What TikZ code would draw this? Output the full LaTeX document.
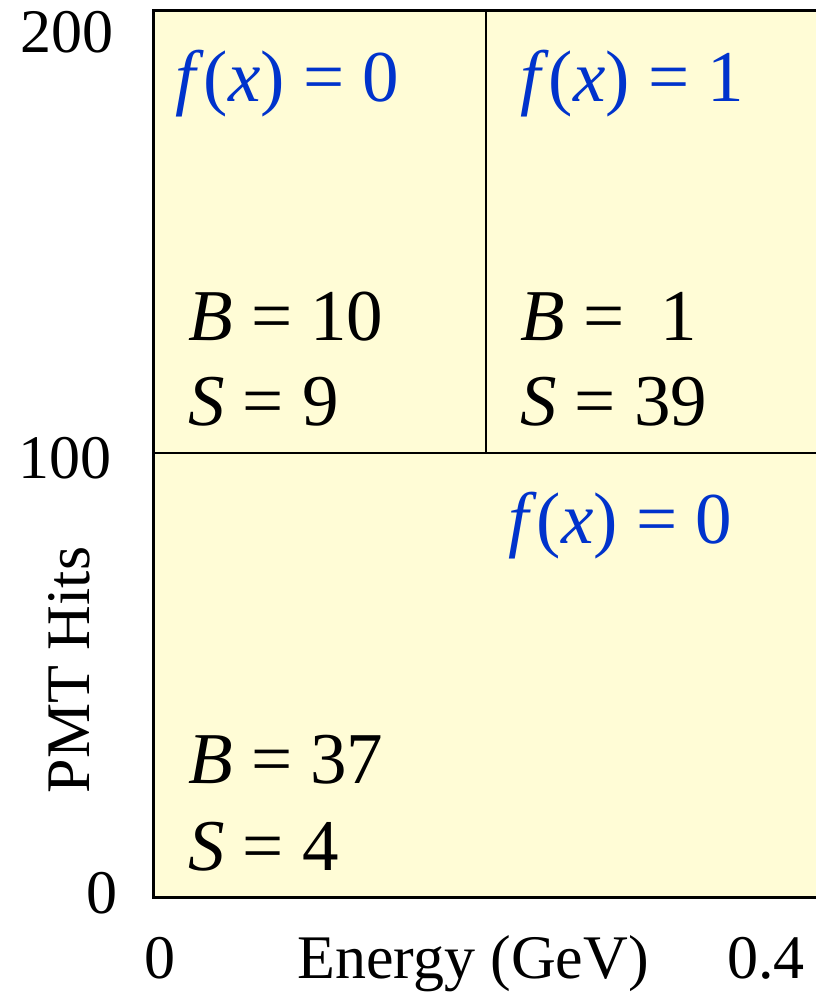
\documentclass[tikz,border=0pt]{standalone}
\usepackage{fontspec}
\setmainfont{Liberation Serif}
\usepackage{xcolor}
\usepackage{tikz}
\usetikzlibrary{positioning}

\definecolor{cellfill}{RGB}{255,252,214}
\definecolor{fblue}{RGB}{0,51,204}

\begin{document}
\begin{tikzpicture}[
  x=1pt, y=-1pt,
  axislab/.style={font=\fontsize{62}{66}\selectfont, inner sep=0pt},
  cell/.style={font=\fontsize{73}{78}\selectfont, inner sep=0pt, anchor=base west},
  fval/.style={cell, text=fblue},
  frame/.style={line width=3pt, draw=black},
  divider/.style={line width=2pt, draw=black}
]
\useasboundingbox (0,0) rectangle (816,993);

% Cut regions
\fill[cellfill] (153,10) rectangle (816,897);
\coordinate (cutL) at (153,453);
\coordinate (cutR) at (816,453);
\coordinate (cutT) at (486,10);
\draw[divider] (cutL) -- (cutR);
\draw[divider] (cutT) -- (cutT |- cutL);
\draw[frame] (816,10) -- (153,10) -- (153,897) -- (816,897);

% Region labels
\node[fval] (ftl) at (175,101) {\textit{f}(\textit{x}) = 0};
\node[fval] (ftr) at (520,101) {\textit{f}(\textit{x}) = 1};
\node[cell] (btl) at (188,340) {\textit{B} = 10};
\node[cell] (stl) at (188,425) {\textit{S} = 9};
\node[cell] (btr) at (520,340) {\textit{B} = \ 1};
\node[cell] (str) at (520,425) {\textit{S} = 39};
\node[fval] (fbot) at (508,543) {\textit{f}(\textit{x}) = 0};
\node[cell] (bbot) at (188,783) {\textit{B} = 37};
\node[cell] (sbot) at (188,870) {\textit{S} = 4};

% Axis ticks and titles
\node[axislab, anchor=base east] (y200) at (114,52) {200};
\node[axislab, anchor=base east] (y100) at (112,478) {100};
\node[axislab, anchor=base east] (y0) at (118,913) {0};
\node[axislab, anchor=base west] (x0) at (144,978) {0};
\node[axislab, anchor=base west] (xmax) at (727,978) {0.4};
\node[axislab, anchor=base west] (xtitle) at (297,978) {Energy (GeV)};
\node[axislab, rotate=90, anchor=base] (ytitle) at (89,670) {PMT Hits};

\end{tikzpicture}
\end{document}
